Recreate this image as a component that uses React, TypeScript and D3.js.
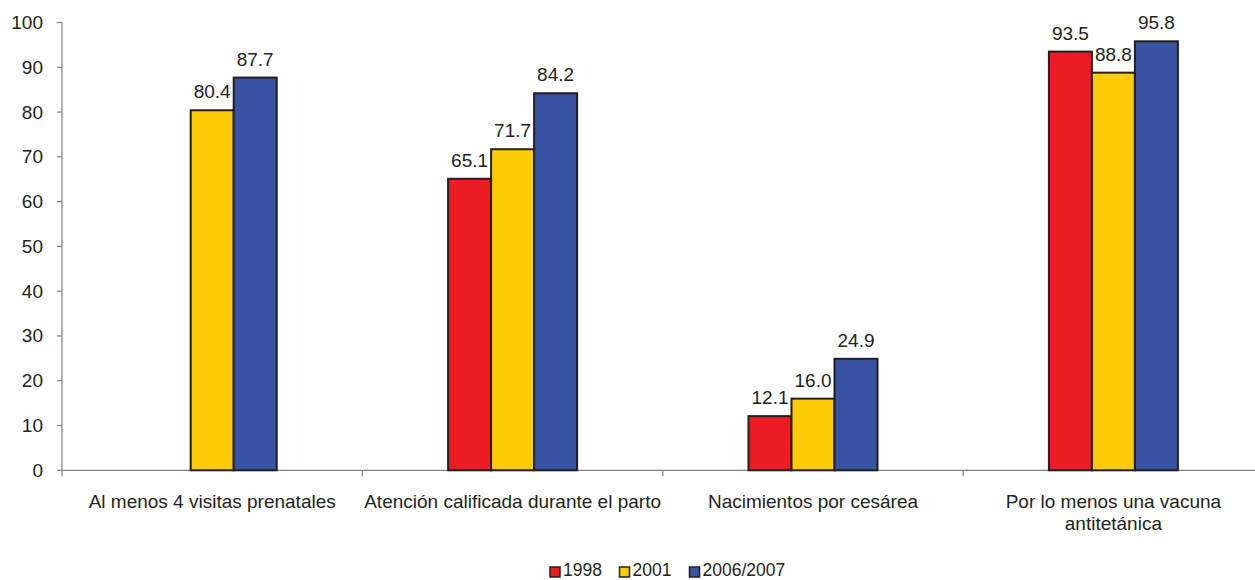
import React from "react";
import * as d3 from "d3";

const categories = [
  ["Al menos 4 visitas prenatales"],
  ["Atención calificada durante el parto"],
  ["Nacimientos por cesárea"],
  ["Por lo menos una vacuna", "antitetánica"],
];
const seriesNames = ["1998", "2001", "2006/2007"];
const values1998: (number | null)[] = [null, 65.1, 12.1, 93.5];
const values2001: (number | null)[] = [80.4, 71.7, 16.0, 88.8];
const values2006: (number | null)[] = [87.7, 84.2, 24.9, 95.8];
const yTicks = [0, 10, 20, 30, 40, 50, 60, 70, 80, 90, 100];
const colors = ["#ED1C24", "#FFCB08", "#3953A4"];

export default function App() {
  const W = 1255, H = 580;
  const left = 62, top = 22.5, bottom = 470.3;
  const catW = 300.4;
  const x = d3.scaleBand<number>().domain([0, 1, 2, 3]).range([left, left + 4 * catW]);
  const y = d3.scaleLinear().domain([0, 100]).range([bottom, top]);
  const barW = 43;
  const series = [values1998, values2001, values2006];
  const font = "'Liberation Sans', Arial, sans-serif";
  const txt = "#231F20";
  const fs = 19;
  const legendX = [550, 619.5, 689.5];
  return (
    <svg width={W} height={H} style={{ position: "absolute", left: 0, top: 0 }} fontFamily={font}>
      <rect width={W} height={H} fill="#fff" />
      <line x1={left} x2={left} y1={top} y2={bottom} stroke="#808080" strokeWidth={1.2} />
      <line x1={left} x2={W} y1={bottom} y2={bottom} stroke="#808080" strokeWidth={1.2} />
      {yTicks.map((t) => (
        <g key={t}>
          <line x1={left - 5} x2={left} y1={y(t)} y2={y(t)} stroke="#808080" strokeWidth={1.2} />
          <text x={43} y={y(t) + 6.5} textAnchor="end" fontSize={fs} fill={txt}>{t}</text>
        </g>
      ))}
      {[0, 1, 2, 3].map((i) => (
        <line key={i} x1={x(i)!} x2={x(i)!} y1={bottom} y2={bottom + 6} stroke="#808080" strokeWidth={1.2} />
      ))}
      {series.map((vals, s) =>
        vals.map((v, i) => {
          if (v == null) return null;
          const cx = x(i)! + x.bandwidth() / 2;
          const bx = cx - 1.5 * barW + s * barW;
          return (
            <g key={s + "-" + i}>
              <rect x={bx} y={y(v)} width={barW} height={bottom - y(v)} fill={colors[s]} stroke="#231F20" strokeWidth={2} />
              <text x={bx + barW / 2} y={y(v) - 12} textAnchor="middle" fontSize={fs} fill={txt}>{v.toFixed(1)}</text>
            </g>
          );
        })
      )}
      {categories.map((lines, i) => (
        <text key={i} x={x(i)! + x.bandwidth() / 2} y={508} textAnchor="middle" fontSize={fs} fill={txt}>
          {lines.map((l, j) => (
            <tspan key={j} x={x(i)! + x.bandwidth() / 2} dy={j === 0 ? 0 : 22}>{l}</tspan>
          ))}
        </text>
      ))}
      {seriesNames.map((n, s) => (
        <g key={n}>
          <rect x={legendX[s]} y={567} width={10} height={10} fill={colors[s]} stroke="#231F20" strokeWidth={1.5} />
          <text x={legendX[s] + 13} y={576} fontSize={17.5} fill={txt}>{n}</text>
        </g>
      ))}
    </svg>
  );
}
